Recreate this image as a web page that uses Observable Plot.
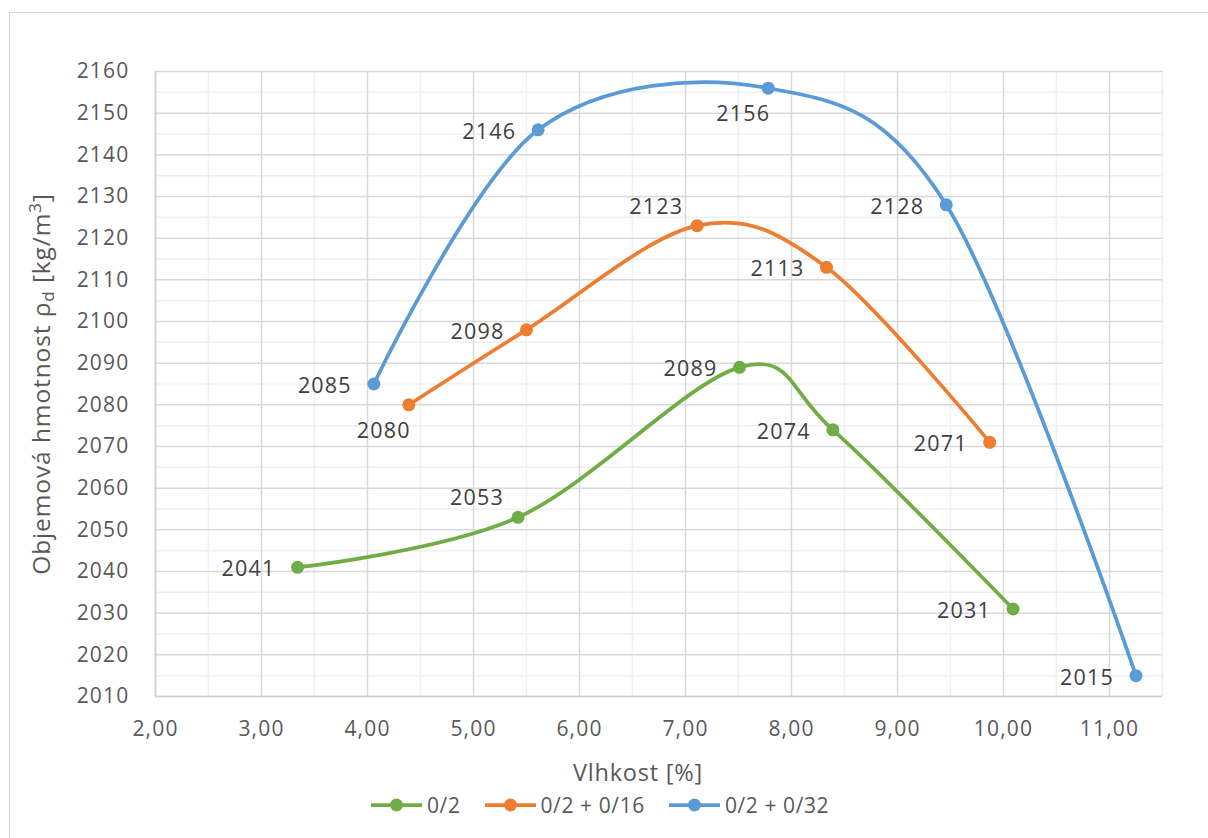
<!DOCTYPE html>
<html>
<head>
<meta charset="utf-8">
<script src="https://cdn.jsdelivr.net/npm/d3@7"></script>
<script src="https://cdn.jsdelivr.net/npm/@observablehq/plot@0.6"></script>
<style>
  html, body { margin: 0; padding: 0; background: #fff; }
  #wrap { position: relative; width: 1208px; height: 838px; overflow: hidden; font-family: "Open Sans", sans-serif; }
  #frame { position: absolute; left: 9px; top: 12px; width: 1220px; height: 860px; border: 1.5px solid #d9d9d9; box-sizing: border-box; }
  #chart { position: absolute; left: 0; top: 0; }
  #chart svg text { letter-spacing: 1.2px; }
  #ytitle { position: absolute; left: 40px; top: 384px; transform: translate(-50%, -50%) rotate(-90deg); white-space: nowrap; font-size: 24.5px; color: #595959; letter-spacing: 0.9px; }
  #ytitle sub { font-size: 17px; vertical-align: -4px; line-height: 0; }
  #ytitle sup { font-size: 17px; vertical-align: 9px; line-height: 0; }
  #xtitle { position: absolute; left: 638px; top: 772px; transform: translate(-50%, -50%); white-space: nowrap; font-size: 23.5px; color: #595959; letter-spacing: 0.8px; }
  #legend { position: absolute; left: 371px; top: 805px; transform: translateY(-50%); display: flex; align-items: center; font-size: 21px; color: #595959; letter-spacing: 0.6px; }
  .item { display: flex; align-items: center; margin-right: 24px; }
  .item svg { margin-right: 5px; }
</style>
</head>
<body>
<div id="wrap">
  <div id="frame"></div>
  <div id="chart"></div>
  <div id="ytitle">Objemová hmotnost ρ<sub>d</sub> [kg/m<sup>3</sup>]</div>
  <div id="xtitle">Vlhkost [%]</div>
  <div id="legend"></div>
</div>
<script>
// ---- data ----
const seriesNames = ["0/2", "0/2 + 0/16", "0/2 + 0/32"];
const seriesColors = ["#70AD47", "#ED7D31", "#5B9BD5"];

const moisture02 = [3.34, 5.42, 7.51, 8.39, 10.09];
const density02 = [2041, 2053, 2089, 2074, 2031];

const moisture016 = [4.39, 5.50, 7.11, 8.33, 9.87];
const density016 = [2080, 2098, 2123, 2113, 2071];

const moisture032 = [4.06, 5.61, 7.78, 9.46, 11.25];
const density032 = [2085, 2146, 2156, 2128, 2015];

const xTicks = [2, 3, 4, 5, 6, 7, 8, 9, 10, 11];
const yTicks = [2010, 2020, 2030, 2040, 2050, 2060, 2070, 2080, 2090, 2100, 2110, 2120, 2130, 2140, 2150, 2160];

// label placement per point (style)
const labelPlace = [
  ["left", "above", "left", "left", "left"],
  ["below", "left", "above", "left", "left"],
  ["left", "left", "below", "left", "left"]
];

// ---- build table ----
const xs = [moisture02, moisture016, moisture032];
const ys = [density02, density016, density032];
const rows = [];
seriesNames.forEach((s, i) => {
  xs[i].forEach((x, j) => rows.push({series: s, x, y: ys[i][j], place: labelPlace[i][j]}));
});

const xMinor = xTicks.map(d => d + 0.5);
const yMinor = yTicks.slice(0, -1).map(d => d + 5);

const labelStyle = {x: "x", y: "y", text: d => String(d.y), fill: "#404040", fontSize: 21.5, fontFamily: "Open Sans"};

const plot = Plot.plot({
  width: 1208,
  height: 760,
  marginLeft: 155,
  marginRight: 46,
  marginTop: 71,
  marginBottom: 64,
  x: {domain: [2, 11.5]},
  y: {domain: [2010, 2160]},
  color: {domain: seriesNames, range: seriesColors},
  style: {fontFamily: "Open Sans", fontSize: "21px", color: "#595959", background: "transparent", overflow: "visible"},
  marks: [
    Plot.ruleX(xMinor, {stroke: "#f0f0f0", strokeWidth: 1.5}),
    Plot.ruleY(yMinor, {stroke: "#f0f0f0", strokeWidth: 1.5}),
    Plot.ruleX(xTicks, {stroke: "#d9d9d9", strokeWidth: 1.5}),
    Plot.ruleY(yTicks, {stroke: "#d9d9d9", strokeWidth: 1.5}),
    Plot.ruleX([2], {stroke: "#cfcfcf", strokeWidth: 1.5}),
    Plot.ruleY([2010], {stroke: "#cfcfcf", strokeWidth: 1.5}),
    Plot.axisX({ticks: xTicks, tickFormat: d => d.toFixed(2).replace(".", ","), tickSize: 0, tickPadding: 25, label: null, fill: "#595959"}),
    Plot.axisY({ticks: yTicks, tickFormat: d => String(d), tickSize: 0, tickPadding: 26, label: null, fill: "#595959"}),
    Plot.line(rows, {x: "x", y: "y", z: "series", stroke: "series", strokeWidth: 3.75, curve: "cardinal"}),
    Plot.dot(rows, {x: "x", y: "y", fill: "series", r: 6.5}),
    Plot.text(rows.filter(d => d.place === "left"), {...labelStyle, textAnchor: "end", dx: -22, dy: 2}),
    Plot.text(rows.filter(d => d.place === "above"), {...labelStyle, textAnchor: "middle", dx: -41, dy: -19}),
    Plot.text(rows.filter(d => d.place === "below"), {...labelStyle, textAnchor: "middle", dx: -25, dy: 26})
  ]
});
document.getElementById("chart").appendChild(plot);

// legend
const legend = document.getElementById("legend");
seriesNames.forEach((s, i) => {
  const item = document.createElement("div");
  item.className = "item";
  item.innerHTML = `<svg width="51" height="14"><line x1="0" x2="51" y1="7" y2="7" stroke="${seriesColors[i]}" stroke-width="3.75" stroke-linecap="round"/><circle cx="25.5" cy="7" r="6.5" fill="${seriesColors[i]}"/></svg><span>${s}</span>`;
  legend.appendChild(item);
});
</script>
</body>
</html>
